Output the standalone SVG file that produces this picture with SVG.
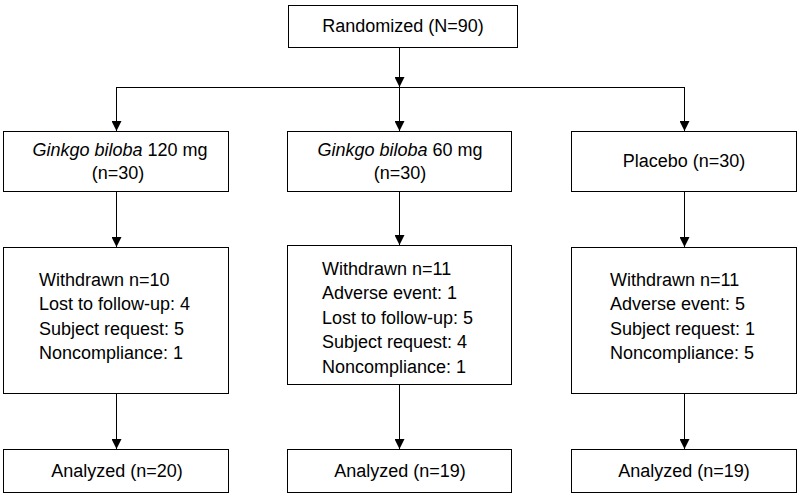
<svg xmlns="http://www.w3.org/2000/svg" width="799" height="495" viewBox="0 0 799 495">
<defs>
<marker id="arr" markerWidth="10" markerHeight="10" refX="10" refY="5" orient="auto" markerUnits="userSpaceOnUse">
<path d="M0,0 L10,5 L0,10 Z" fill="#000"/>
</marker>
<style>
.box{fill:#fff;stroke:#000;stroke-width:1}
.t{font-family:"Liberation Sans",Arial,sans-serif;font-size:18px;fill:#000}
.c{text-anchor:middle}
.i{font-style:italic}
.ln{fill:none;stroke:#000;stroke-width:1}
</style>
</defs>
<rect width="799" height="495" fill="#fff"/>
<g id="connectors">
<line class="ln" x1="399.5" y1="47" x2="399.5" y2="87" marker-end="url(#arr)"/>
<line class="ln" x1="116.5" y1="87.5" x2="684.5" y2="87.5"/>
<line class="ln" x1="116.5" y1="87" x2="116.5" y2="131" marker-end="url(#arr)"/>
<line class="ln" x1="399.5" y1="87" x2="399.5" y2="131" marker-end="url(#arr)"/>
<line class="ln" x1="684.5" y1="87" x2="684.5" y2="131" marker-end="url(#arr)"/>
<line class="ln" x1="116.5" y1="191" x2="116.5" y2="247" marker-end="url(#arr)"/>
<line class="ln" x1="399.5" y1="191" x2="399.5" y2="245" marker-end="url(#arr)"/>
<line class="ln" x1="684.5" y1="191" x2="684.5" y2="247" marker-end="url(#arr)"/>
<line class="ln" x1="116.5" y1="393" x2="116.5" y2="449" marker-end="url(#arr)"/>
<line class="ln" x1="399.5" y1="384" x2="399.5" y2="449" marker-end="url(#arr)"/>
<line class="ln" x1="684.5" y1="393" x2="684.5" y2="449" marker-end="url(#arr)"/>
</g>
<g id="randomized">
<rect class="box" x="288.5" y="5.5" width="229" height="42"/>
<text class="t c" x="403" y="32">Randomized (N=90)</text>
</g>
<g id="arm120">
<rect class="box" x="3.5" y="131.5" width="225" height="60"/>
<text class="t c" x="120" y="156"><tspan class="i">Ginkgo biloba</tspan> 120 mg</text>
<text class="t c" x="118" y="179">(n=30)</text>
</g>
<g id="arm60">
<rect class="box" x="287.5" y="131.5" width="224" height="60"/>
<text class="t c" x="400" y="156"><tspan class="i">Ginkgo biloba</tspan> 60 mg</text>
<text class="t c" x="400" y="179">(n=30)</text>
</g>
<g id="placebo">
<rect class="box" x="571.5" y="131.5" width="225" height="60"/>
<text class="t c" x="684" y="167">Placebo (n=30)</text>
</g>
<g id="withdrawn120">
<rect class="box" x="3.5" y="247.5" width="225" height="146"/>
<text class="t" x="39" y="285.5">Withdrawn n=10</text>
<text class="t" x="39" y="310">Lost to follow-up: 4</text>
<text class="t" x="39" y="334.5">Subject request: 5</text>
<text class="t" x="39" y="359">Noncompliance: 1</text>
</g>
<g id="withdrawn60">
<rect class="box" x="287.5" y="245.5" width="224" height="139"/>
<text class="t" x="322" y="274.5">Withdrawn n=11</text>
<text class="t" x="322" y="299">Adverse event: 1</text>
<text class="t" x="322" y="323.5">Lost to follow-up: 5</text>
<text class="t" x="322" y="348">Subject request: 4</text>
<text class="t" x="322" y="372.5">Noncompliance: 1</text>
</g>
<g id="withdrawnPlacebo">
<rect class="box" x="571.5" y="247.5" width="225" height="146"/>
<text class="t" x="610" y="285.5">Withdrawn n=11</text>
<text class="t" x="610" y="310">Adverse event: 5</text>
<text class="t" x="610" y="334.5">Subject request: 1</text>
<text class="t" x="610" y="359">Noncompliance: 5</text>
</g>
<g id="analyzed120">
<rect class="box" x="3.5" y="449.5" width="225" height="43"/>
<text class="t c" x="117" y="477">Analyzed (n=20)</text>
</g>
<g id="analyzed60">
<rect class="box" x="287.5" y="449.5" width="224" height="43"/>
<text class="t c" x="400" y="477">Analyzed (n=19)</text>
</g>
<g id="analyzedPlacebo">
<rect class="box" x="571.5" y="449.5" width="225" height="43"/>
<text class="t c" x="684" y="477">Analyzed (n=19)</text>
</g>
</svg>
